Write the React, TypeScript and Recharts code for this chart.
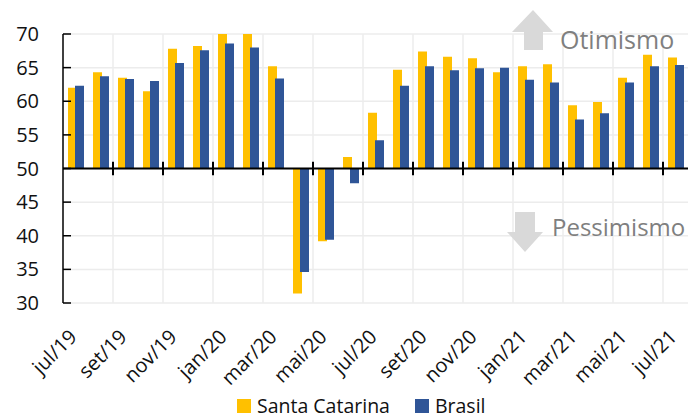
import React from 'react';
import { BarChart, Bar, XAxis, YAxis, CartesianGrid, ReferenceLine, Legend } from 'recharts';

const categories = [
  'jul/19', 'ago/19', 'set/19', 'out/19', 'nov/19', 'dez/19', 'jan/20', 'fev/20', 'mar/20',
  'abr/20', 'mai/20', 'jun/20', 'jul/20', 'ago/20', 'set/20', 'out/20', 'nov/20', 'dez/20',
  'jan/21', 'fev/21', 'mar/21', 'abr/21', 'mai/21', 'jun/21', 'jul/21',
];
const tickLabels = [
  'jul/19', 'set/19', 'nov/19', 'jan/20', 'mar/20', 'mai/20', 'jul/20',
  'set/20', 'nov/20', 'jan/21', 'mar/21', 'mai/21', 'jul/21',
];
const santaCatarina = [
  62.0, 64.3, 63.5, 61.5, 67.8, 68.2, 70.2, 70.0, 65.2, 31.4, 39.2, 51.7, 58.3,
  64.7, 67.4, 66.6, 66.4, 64.3, 65.2, 65.5, 59.4, 59.9, 63.5, 66.9, 66.5,
];
const brasil = [
  62.3, 63.7, 63.3, 63.0, 65.7, 67.6, 68.6, 68.0, 63.4, 34.6, 39.4, 47.8, 54.2,
  62.3, 65.2, 64.6, 64.9, 65.0, 63.2, 62.8, 57.3, 58.2, 62.8, 65.2, 65.4,
];
const yTicks = [30, 35, 40, 45, 50, 55, 60, 65, 70];
const baseline = 50;
const seriesNames = ['Santa Catarina', 'Brasil'];

const FONT = '"Open Sans", sans-serif';
const YELLOW = '#FFC000';
const BLUE = '#2F5597';
const seriesColors = [YELLOW, BLUE];

const range = (v: number) => [Math.min(baseline, v), Math.max(baseline, v)];
const data = categories.map((c, i) => ({
  cat: c,
  sc: range(santaCatarina[i]),
  br: range(brasil[i]),
}));

const XTick = (props: any) => {
  const { x, y, payload } = props;
  return (
    <g transform={`translate(${x - 2.5},${y + 30}) rotate(-45)`}>
      <text x={0} y={0} dy="0.357em" textAnchor="end" fill="#111" fontSize={20} fontFamily={FONT}>
        {payload.value}
      </text>
    </g>
  );
};

const LegendContent = () => (
  <div style={{ display: 'flex', alignItems: 'center', fontFamily: FONT, fontSize: 19.5, color: '#111', whiteSpace: 'nowrap', height: 16 }}>
    {seriesNames.map((name, i) => (
      <div key={name} style={{ display: 'flex', alignItems: 'center', marginRight: i === 0 ? 25 : 0 }}>
        <span style={{ display: 'inline-block', width: 14, height: 14, background: seriesColors[i], marginRight: 6 }} />
        <span style={{ lineHeight: '16px' }}>{name}</span>
      </div>
    ))}
  </div>
);

export default function App() {
  const boundaries = categories.filter((_, i) => i > 0 && i % 2 === 0);
  return (
    <div style={{ position: 'absolute', left: 0, top: 0, width: 689, height: 419 }}>
      <BarChart
        width={689}
        height={419}
        data={data}
        margin={{ top: 34, right: 1, bottom: 0, left: 0 }}
        barSize={9}
        barGap={-2}
      >
        <CartesianGrid vertical={false} stroke="#ececec" strokeWidth={1.5} />
        {boundaries.map((c) => (
          <ReferenceLine key={'g' + c} x={c} position="start" stroke="#ececec" strokeWidth={1.5} />
        ))}
        <XAxis
          dataKey="cat"
          ticks={tickLabels}
          interval={0}
          axisLine={false}
          tickLine={false}
          tickSize={0}
          tickMargin={0}
          height={116}
          tick={<XTick />}
        />
        <YAxis
          domain={[30, 70]}
          ticks={yTicks}
          allowDataOverflow
          width={63}
          axisLine={{ stroke: '#000', strokeWidth: 1.5 }}
          tickLine={{ stroke: '#000', strokeWidth: 1.5 }}
          tickSize={-8}
          tickMargin={32}
          tick={{ fill: '#111', fontSize: 20, fontFamily: FONT }}
        />
        <Bar dataKey="sc" name={seriesNames[0]} fill={YELLOW} isAnimationActive={false} />
        <Bar dataKey="br" name={seriesNames[1]} fill={BLUE} isAnimationActive={false} />
        <ReferenceLine y={baseline} stroke="#000" strokeWidth={1.8} />
        {boundaries.map((c) => (
          <ReferenceLine
            key={'t' + c}
            segment={[{ x: c, y: 49 }, { x: c, y: 51 }]}
            position="start"
            stroke="#000"
            strokeWidth={2}
          />
        ))}
        <Legend
          layout="horizontal"
          verticalAlign="middle"
          align="center"
          content={<LegendContent />}
          wrapperStyle={{ top: 398, left: 237, width: 'auto', height: 16 }}
        />
      </BarChart>
      <svg width={689} height={419} style={{ position: 'absolute', left: 0, top: 0, pointerEvents: 'none' }}>
        <polygon points="533,10 553,32 543,32 543,50 524,50 524,32 512,32" fill="#d9d9d9" />
        <text x={560} y={48.5} fontSize={25} fontFamily={FONT} fill="#7f7f7f">Otimismo</text>
        <polygon points="515,212 535,212 535,232 543,232 525,252 507,232 515,232" fill="#d9d9d9" />
        <text x={552} y={236} fontSize={24} fontFamily={FONT} fill="#7f7f7f">Pessimismo</text>
      </svg>
    </div>
  );
}
